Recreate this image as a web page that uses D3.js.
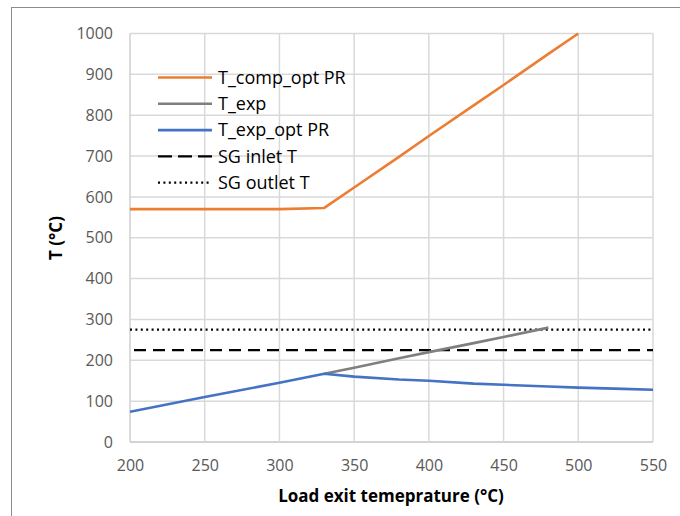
<!DOCTYPE html>
<html>
<head>
<meta charset="utf-8">
<script src="https://cdn.jsdelivr.net/npm/d3@7"></script>
<style>
  html, body { margin: 0; padding: 0; background: #fff; }
  svg { display: block; font-family: "Open Sans", "Noto Sans", sans-serif; }
</style>
</head>
<body>
<svg id="chart" width="680" height="516"></svg>
<script>
// Load exit temperature (°C) at each operating point
const loadExit = [200, 250, 300, 330, 350, 380, 400, 430, 450, 480, 500, 530, 550];

// Compressor temperature at optimum pressure ratio
const compOptX = [200, 250, 300, 330, 350, 380, 400, 430, 450, 480, 500];
const compOptT = [570, 570, 570, 573, 623, 698, 749, 824, 874, 950, 1000];

// Expander temperature (fixed pressure ratio branch)
const expX = [330, 350, 380, 400, 430, 450, 480];
const expT = [167, 182, 205, 220, 242, 257, 280];

// Expander temperature at optimum pressure ratio
const expOptT = [74, 110, 145, 167, 160, 153, 150, 143, 140, 136, 133, 130, 128];

// Steam generator limits
const sgInlet = 225;
const sgOutlet = 275;

const xTicks = [200, 250, 300, 350, 400, 450, 500, 550];
const yTicks = [0, 100, 200, 300, 400, 500, 600, 700, 800, 900, 1000];

const seriesNames = ["T_comp_opt PR", "T_exp", "T_exp_opt PR", "SG inlet T", "SG outlet T"];

const svg = d3.select("#chart");
const plotL = 130, plotR = 653, plotT = 33.5, plotB = 442;

const x = d3.scaleLinear().domain([200, 550]).range([plotL, plotR]);
const y = d3.scaleLinear().domain([0, 1000]).range([plotB, plotT]);

// Outer chart frame
svg.append("rect")
  .attr("x", 11.5).attr("y", 7.5)
  .attr("width", 700).attr("height", 540)
  .attr("fill", "none").attr("stroke", "#8c8c8c").attr("stroke-width", 1);

// Gridlines
const grid = svg.append("g");
grid.selectAll("line.h").data(yTicks).join("line")
  .attr("class", "h")
  .attr("x1", plotL).attr("x2", plotR)
  .attr("y1", d => y(d)).attr("y2", d => y(d))
  .attr("stroke", d => d === 0 ? "#c4c4c4" : "#d9d9d9").attr("stroke-width", 1.5);
grid.selectAll("line.v").data(xTicks).join("line")
  .attr("class", "v")
  .attr("y1", plotT).attr("y2", plotB)
  .attr("x1", d => x(d)).attr("x2", d => x(d))
  .attr("stroke", d => d === 200 ? "#cfcfcf" : "#d9d9d9").attr("stroke-width", 1.5);

// Axes (labels only; lines come from the grid)
const xAxis = svg.append("g").attr("transform", `translate(0,${plotB})`)
  .call(d3.axisBottom(x).tickValues(xTicks).tickSize(0).tickPadding(18).tickFormat(d3.format("d")));
xAxis.select(".domain").remove();
xAxis.selectAll("text").attr("font-size", 16).attr("fill", "#595959")
  .attr("font-family", "'Open Sans', sans-serif");

const yAxis = svg.append("g").attr("transform", `translate(${plotL},0)`)
  .call(d3.axisLeft(y).tickValues(yTicks).tickSize(0).tickPadding(17).tickFormat(d3.format("d")));
yAxis.select(".domain").remove();
yAxis.selectAll("text").attr("font-size", 16).attr("fill", "#595959")
  .attr("font-family", "'Open Sans', sans-serif");

// Axis titles
svg.append("text")
  .attr("x", 391).attr("y", 502)
  .attr("text-anchor", "middle")
  .attr("font-size", 17).attr("font-weight", "bold").attr("fill", "#000")
  .text("Load exit temeprature (°C)");
svg.append("text")
  .attr("transform", "translate(62,238) rotate(-90)")
  .attr("text-anchor", "middle")
  .attr("font-size", 17).attr("font-weight", "bold").attr("fill", "#000")
  .text("T (°C)");

// Series
svg.append("clipPath").attr("id", "plot-clip")
  .append("rect").attr("x", plotL).attr("y", plotT - 2)
  .attr("width", plotR - plotL).attr("height", plotB - plotT + 2);

const plot = svg.append("g").attr("clip-path", "url(#plot-clip)");
const line = d3.line().x(d => x(d[0])).y(d => y(d[1]));

plot.append("path")
  .datum([[200, sgOutlet], [550, sgOutlet]])
  .attr("d", line).attr("fill", "none")
  .attr("stroke", "#000").attr("stroke-width", 2.2).attr("stroke-dasharray", "2,3.4");
plot.append("path")
  .datum([[200, sgInlet], [550, sgInlet]])
  .attr("d", line).attr("fill", "none")
  .attr("stroke", "#000").attr("stroke-width", 2.2).attr("stroke-dasharray", "12,7")
  .attr("stroke-dashoffset", -4);

plot.append("path")
  .datum(expX.map((v, i) => [v, expT[i]]))
  .attr("d", line).attr("fill", "none")
  .attr("stroke", "#7f7f7f").attr("stroke-width", 2.6).attr("stroke-linejoin", "round");

plot.append("path")
  .datum(loadExit.map((v, i) => [v, expOptT[i]]))
  .attr("d", line).attr("fill", "none")
  .attr("stroke", "#4472c4").attr("stroke-width", 2.6).attr("stroke-linejoin", "round");

plot.append("path")
  .datum(compOptX.map((v, i) => [v, compOptT[i]]))
  .attr("d", line).attr("fill", "none")
  .attr("stroke", "#ed7d31").attr("stroke-width", 2.6).attr("stroke-linejoin", "round");

// Legend
const legendStyles = [
  { color: "#ed7d31", dash: null, w: 2.6 },
  { color: "#7f7f7f", dash: null, w: 2.6 },
  { color: "#4472c4", dash: null, w: 2.6 },
  { color: "#000", dash: "14,6", w: 2.2 },
  { color: "#000", dash: "2,3.4", w: 2.2 }
];
const legend = svg.append("g");
const rows = legend.selectAll("g").data(seriesNames).join("g")
  .attr("transform", (d, i) => `translate(158,${77.5 + i * 26.3})`);
rows.append("line")
  .attr("x1", 0).attr("x2", 54).attr("y1", 0).attr("y2", 0)
  .attr("stroke", (d, i) => legendStyles[i].color)
  .attr("stroke-width", (d, i) => legendStyles[i].w)
  .attr("stroke-dasharray", (d, i) => legendStyles[i].dash);
rows.append("text")
  .attr("x", 60).attr("y", 0).attr("dy", "0.35em")
  .attr("font-size", 18).attr("fill", "#000")
  .text(d => d);
</script>
</body>
</html>
